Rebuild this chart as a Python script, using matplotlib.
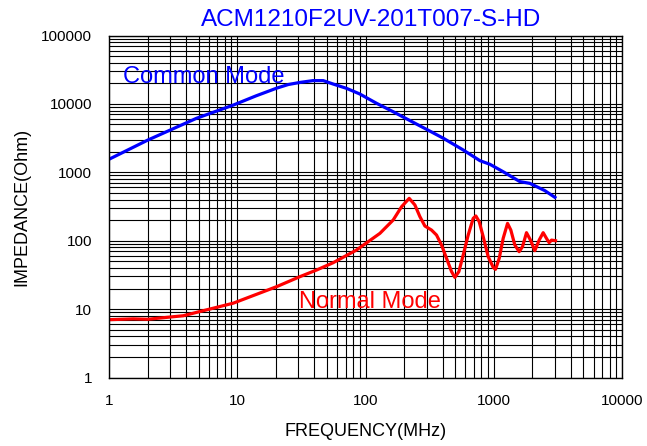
import matplotlib
matplotlib.use("Agg")
from matplotlib import pyplot as plt
from matplotlib.ticker import LogLocator, FixedLocator, NullFormatter

plt.rcParams['font.family'] = ['Liberation Sans', 'DejaVu Sans']

title = "ACM1210F2UV-201T007-S-HD"

# common mode impedance
cm_freq = [1, 2, 4.8, 9.3, 14, 20.3, 25, 30.8, 39, 46.8, 56, 71, 90, 122, 164,
           222, 299, 404, 578, 780, 933, 1184, 1600, 1910, 2500, 3000]
cm_imp = [1550, 2950, 6150, 9600, 13100, 17000, 19200, 20600, 21900, 21900,
          19500, 16900, 14000, 10200, 7700, 5700, 4250, 3150, 2120, 1480,
          1310, 1020, 730, 690, 540, 430]

# normal mode impedance
nm_freq = [1, 1.55, 2, 3.8, 5.1, 9.3, 20.3, 30.8, 41.6, 56, 85, 129.5, 164.5,
           191.1, 219.2, 242.7, 265.5, 290.4, 327.3, 357.9, 391.6, 428.4,
           468.8, 497.5, 534.6, 577.9, 632, 691.3, 725.3, 770, 827.5, 904.9,
           990, 1032, 1103, 1184, 1281, 1359, 1460, 1578, 1676, 1800, 1934,
           2091, 2260, 2428, 2578, 2704, 2820, 3030]
nm_imp = [7.0, 7.2, 7.1, 8.0, 9.2, 12.2, 21.3, 29.8, 37.3, 47.7, 73, 128, 201,
          314, 416, 333, 225, 164, 143, 121, 86.5, 55.2, 35.3, 29.1, 35.3,
          61.8, 121, 212, 230, 190, 114.5, 58.4, 40.8, 38.1, 55.2, 108, 179,
          143, 86.5, 69.1, 81.8, 131, 102, 71.5, 102, 131, 108, 93.6, 102, 100]

x_ticks = [1, 10, 100, 1000, 10000]
y_ticks = [1, 10, 100, 1000, 10000, 100000]

fig = plt.figure(figsize=(6.47, 4.46), dpi=100)
ax = fig.add_axes([109 / 647, 68.5 / 446, 513 / 647, 342 / 446])

ax.set_xscale('log')
ax.set_yscale('log')
ax.set_xlim(1, 10000)
ax.set_ylim(1, 100000)

ax.xaxis.set_major_locator(FixedLocator(x_ticks))
ax.yaxis.set_major_locator(FixedLocator(y_ticks))
ax.set_xticklabels([str(t) for t in x_ticks])
ax.set_yticklabels([str(t) for t in y_ticks])
ax.xaxis.set_minor_locator(LogLocator(base=10, subs=range(2, 10)))
ax.yaxis.set_minor_locator(LogLocator(base=10, subs=range(2, 10)))
ax.xaxis.set_minor_formatter(NullFormatter())
ax.yaxis.set_minor_formatter(NullFormatter())

ax.grid(True, which='both', color='black', linewidth=0.8)
ax.set_axisbelow(True)
ax.tick_params(which='both', length=0, labelsize=11, pad=12)
for s in ax.spines.values():
    s.set_color('black')
    s.set_linewidth(1)

ax.plot(cm_freq, cm_imp, color='#0000FF', linewidth=2.3)
ax.plot(nm_freq, nm_imp, color='#FF0000', linewidth=2.3)

ax.text(1.28, 20400, "Common Mode", color='#0000FF', fontsize=17,
        ha='left', va='baseline')
ax.text(30.4, 10.4, "Normal Mode", color='#FF0000', fontsize=17,
        ha='left', va='baseline')

ax.set_xlabel("FREQUENCY(MHz)", fontsize=13, labelpad=11)
ax.set_ylabel("IMPEDANCE(Ohm)", fontsize=13, labelpad=8)

fig.text(371.5 / 647, 1 - 26 / 446, title, color='#0000FF', fontsize=17.5,
         ha='center', va='baseline')

fig.savefig("out.png", dpi=100)
